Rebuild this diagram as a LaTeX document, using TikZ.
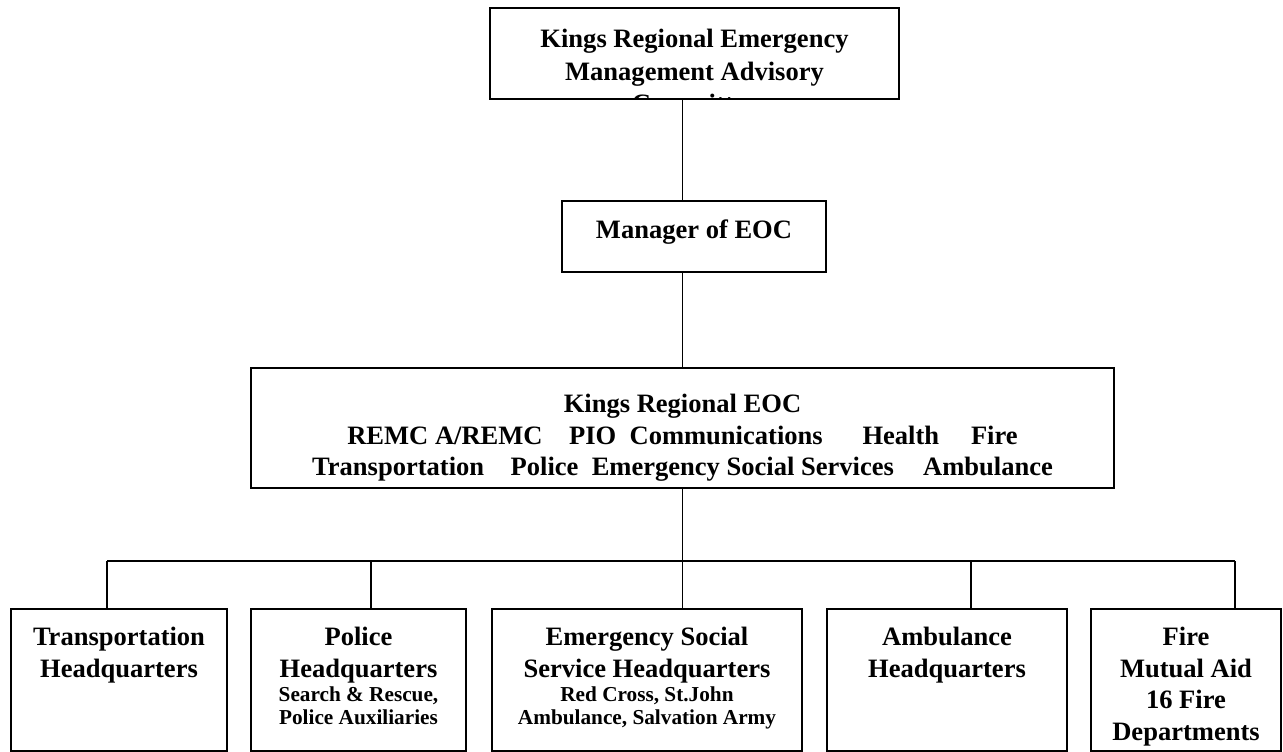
\documentclass[tikz,border=0pt]{standalone}
\usepackage{fontspec}
\setmainfont{Liberation Serif}
\usetikzlibrary{positioning}
\newcommand{\bigtxt}{\fontsize{15.1pt}{17.9pt}\selectfont\bfseries}
\newcommand{\smalltxt}{\fontsize{12.1pt}{13.1pt}\selectfont\bfseries}
\tikzset{
  unit/.style   ={draw, rectangle, line width=1.1pt, inner sep=0pt},
  caption/.style={align=center, inner sep=0pt, font=\bigtxt},
  link/.style   ={line width=1.1pt}
}

\begin{document}
\begin{tikzpicture}
  \useasboundingbox (0,0) rectangle (25.66,-15.04);

  % committee, manager and regional EOC
  \node[unit, minimum width=8.18cm, minimum height=1.82cm] (rema) at (13.89,-1.07) {};
  \begin{scope}
    \clip (rema.north west) rectangle (rema.south east);
    \node[caption, below=0.44cm of rema.north] (rematxt)
      {Kings Regional Emergency\\[0.02cm]Management Advisory\\[0.02cm]Committee};
  \end{scope}

  \node[unit, minimum width=5.28cm, minimum height=1.42cm] (mgr) at (13.88,-4.73) {};
  \node[caption, below=0.38cm of mgr.north] (mgrtxt) {Manager of EOC};

  \node[unit, minimum width=17.26cm, minimum height=2.4cm] (eoc) at (13.65,-8.56) {};
  \node[caption, below=0.54cm of eoc.north] (eoctxt)
    {Kings Regional EOC\\
     REMC A/REMC\hspace{1em}PIO\hspace{0.5em}Communications\hspace{1.5em}Health\hspace{1.2em}Fire\\
     Transportation\hspace{1em}Police\hspace{0.5em}Emergency Social Services\hspace{1.1em}Ambulance};

  % headquarters
  \node[unit, minimum width=4.32cm, minimum height=2.84cm] (trans)  at (2.38,-13.6)  {};
  \node[unit, minimum width=4.3cm,  minimum height=2.84cm] (police) at (7.17,-13.6)  {};
  \node[unit, minimum width=6.2cm,  minimum height=2.84cm] (ess)    at (12.94,-13.6) {};
  \node[unit, minimum width=4.8cm,  minimum height=2.84cm] (amb)    at (18.94,-13.6) {};
  \node[unit, minimum width=3.8cm,  minimum height=2.84cm] (fire)   at (23.72,-13.6) {};

  \node[caption, below=0.38cm of trans.north]  (transtxt)  {Transportation\\Headquarters};
  \node[caption, below=0.38cm of police.north] (policetxt)
    {Police\\Headquarters\\[-0.14cm]{\smalltxt Search \& Rescue,}\\[-0.18cm]{\smalltxt Police Auxiliaries}};
  \node[caption, below=0.38cm of ess.north]    (esstxt)
    {Emergency Social\\Service Headquarters\\[-0.14cm]{\smalltxt Red Cross, St.John}\\[-0.18cm]{\smalltxt Ambulance, Salvation Army}};
  \node[caption, below=0.38cm of amb.north]    (ambtxt)    {Ambulance\\Headquarters};
  \node[caption, below=0.38cm of fire.north]   (firetxt)   {Fire\\Mutual Aid\\16 Fire\\Departments};

  % connectors
  \draw[link] (rema.south -| eoc.north) -- (mgr.north -| eoc.north);
  \draw[link] (mgr.south -| eoc.north) -- (eoc.north);

  \coordinate (d1) at (2.14,-11.22);
  \coordinate (d2) at (7.42,-11.22);
  \coordinate (d3) at (eoc.south |- d1);
  \coordinate (d4) at (19.42,-11.22);
  \coordinate (d5) at (24.70,-11.22);

  \draw[link] (eoc.south) -- (d3);
  \draw[link] (d1) -- (d5);
  \draw[link] (d1) -- (d1 |- trans.north);
  \draw[link] (d2) -- (d2 |- police.north);
  \draw[link] (d3) -- (d3 |- ess.north);
  \draw[link] (d4) -- (d4 |- amb.north);
  \draw[link] (d5) -- (d5 |- fire.north);
\end{tikzpicture}
\end{document}
